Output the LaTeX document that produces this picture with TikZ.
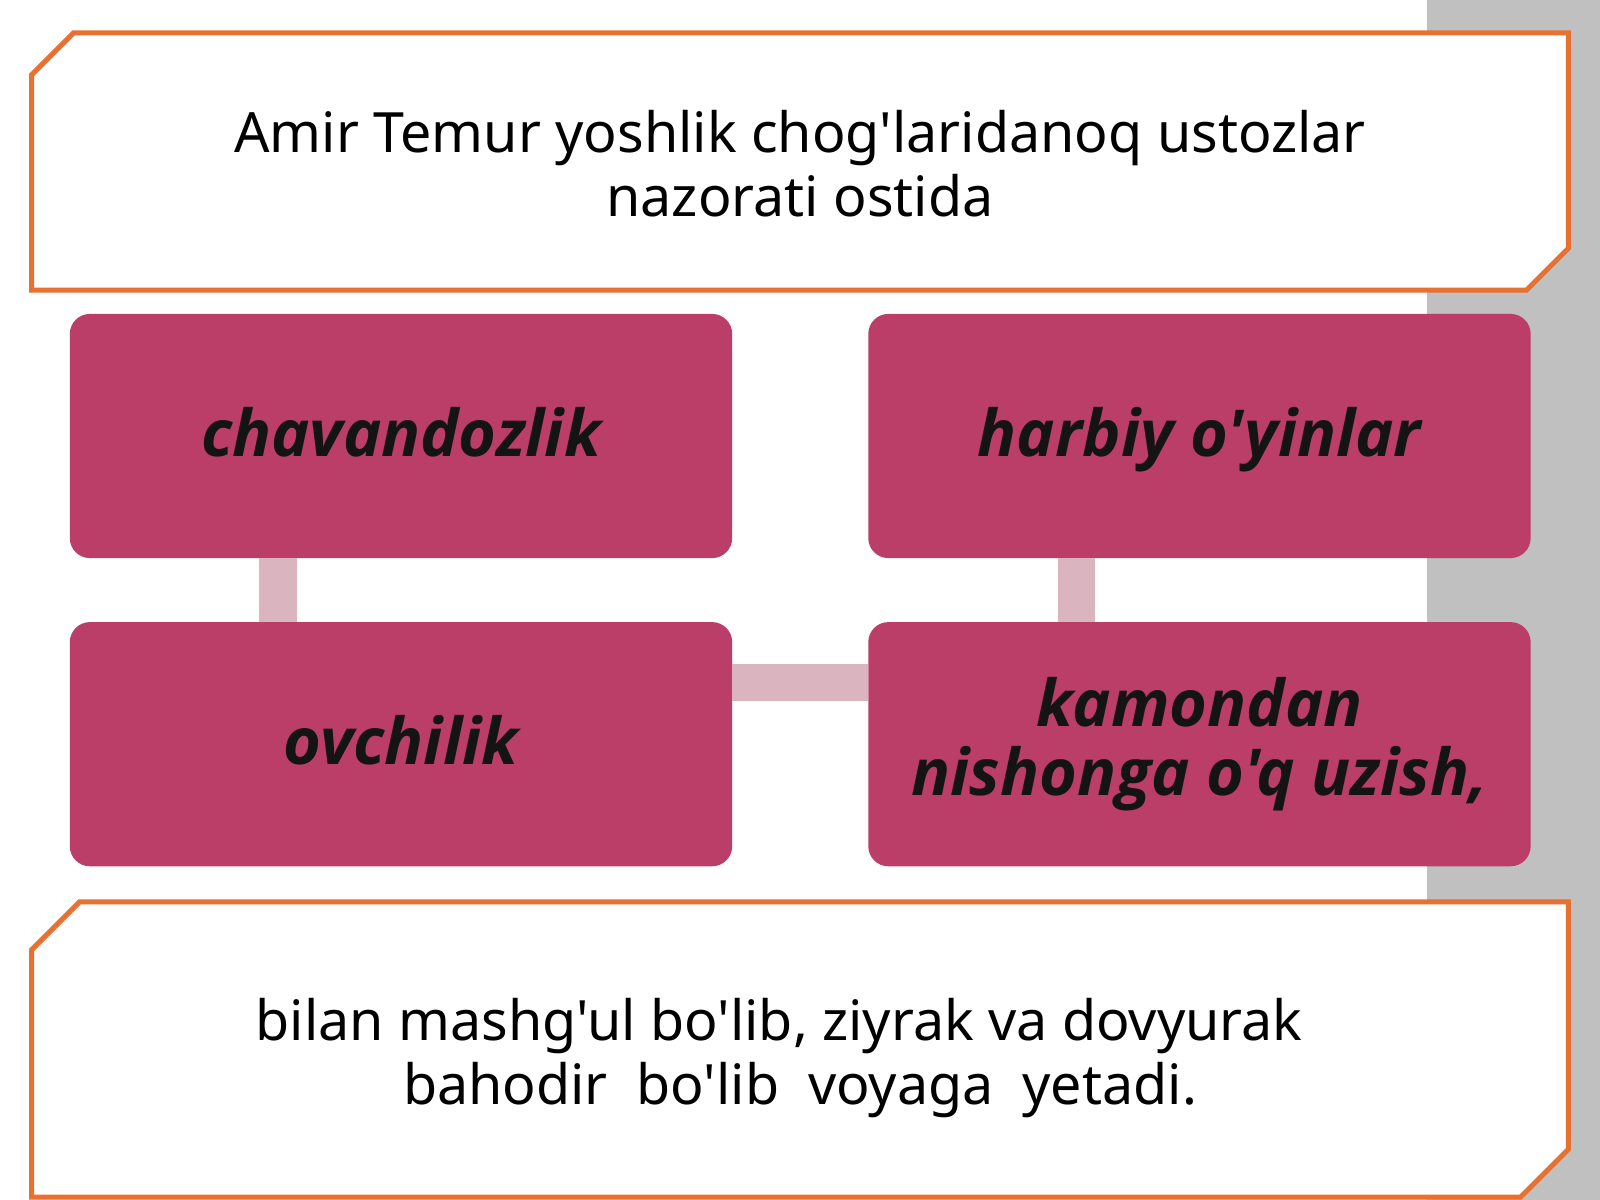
\documentclass[tikz,border=0pt]{standalone}
\usepackage{fontspec}
\setmainfont{Noto Sans}[Ligatures=TeXOff]
\newfontfamily\boxfont{Open Sans}[Ligatures=TeXOff]
\usetikzlibrary{calc}
\usetikzlibrary{positioning}
\definecolor{frameorange}{RGB}{232,112,48}
\definecolor{boxpink}{RGB}{186,62,103}
\definecolor{linkpink}{RGB}{218,180,190}
\definecolor{sidegray}{RGB}{192,192,192}
\definecolor{inkblack}{RGB}{20,20,20}
\tikzset{
  framebox/.style = {rectangle, draw=none, inner sep=0, outer sep=0, minimum width=15.36cm},
  frameline/.style = {draw=frameorange, fill=white, line width=0.05cm, line join=miter},
  frametext/.style = {align=center, inner sep=0, font=\fontsize{15.8}{18.2}\selectfont},
  pinkbox/.style = {rectangle, rounded corners=0.2cm, fill=boxpink, draw=none, inner sep=0, outer sep=0,
    minimum width=6.62cm, minimum height=2.44cm, align=center, text=inkblack,
    font=\boxfont\fontsize{18.4}{19.4}\selectfont\bfseries\itshape},
  link/.style = {-, draw=linkpink, line width=0.37cm}
}

\begin{document}
\begin{tikzpicture}[x=0.01cm, y=-0.01cm]
\useasboundingbox (0,0) rectangle (1600,1200);
\fill[white] (0,0) rectangle (1600,1200);
\fill[sidegray] (1427,0) rectangle (1600,1200);

% frames
\node [framebox, minimum height=2.57cm] (topbox) at (800,161.5) {};
\node [framebox, minimum height=2.95cm] (endbox) at (800,1049.5) {};
\draw [frameline] ($(topbox.north west)+(42,0)$) -- (topbox.north east) -- ($(topbox.south east)+(0,-42)$)
  -- ($(topbox.south east)+(-42,0)$) -- (topbox.south west) -- ($(topbox.north west)+(0,42)$) -- cycle;
\draw [frameline] ($(endbox.north west)+(48,0)$) -- (endbox.north east) -- ($(endbox.south east)+(0,-48)$)
  -- ($(endbox.south east)+(-48,0)$) -- (endbox.south west) -- ($(endbox.north west)+(0,48)$) -- cycle;
\node [frametext] (toptext) at ($(topbox.center)+(0,2)$) {Amir Temur yoshlik chog'laridanoq ustozlar\\nazorati ostida};
\node [frametext] (endtext) at ($(endbox.center)+(0,9)$) {bilan mashg'ul bo'lib, ziyrak va dovyurak\hspace*{0.42cm}\mbox{}\\bahodir~ bo'lib~ voyaga~ yetadi.};

% activities
\node [pinkbox, text height=0.46cm, text depth=0.06cm] (chav) at (401,436) {chavandozlik};
\node [pinkbox, text height=0.46cm, text depth=0.06cm, right=1.36cm of chav] (harb) {harbiy o'yinlar};
\node [pinkbox, text height=0.46cm, text depth=0.06cm, below=0.64cm of chav] (ovch) {ovchilik};
\node [pinkbox, below=0.64cm of harb] (kam) {kamondan\\nishonga o'q uzish,};

\draw [link] ($(chav.south)+(-123,0)$) -- ($(ovch.north)+(-123,0)$);
\draw [link] ($(harb.south)+(-123,0)$) -- ($(kam.north)+(-123,0)$);
\draw [link] ($(ovch.east)+(0,-62)$) -- ($(kam.west)+(0,-62)$);
\end{tikzpicture}
\end{document}
